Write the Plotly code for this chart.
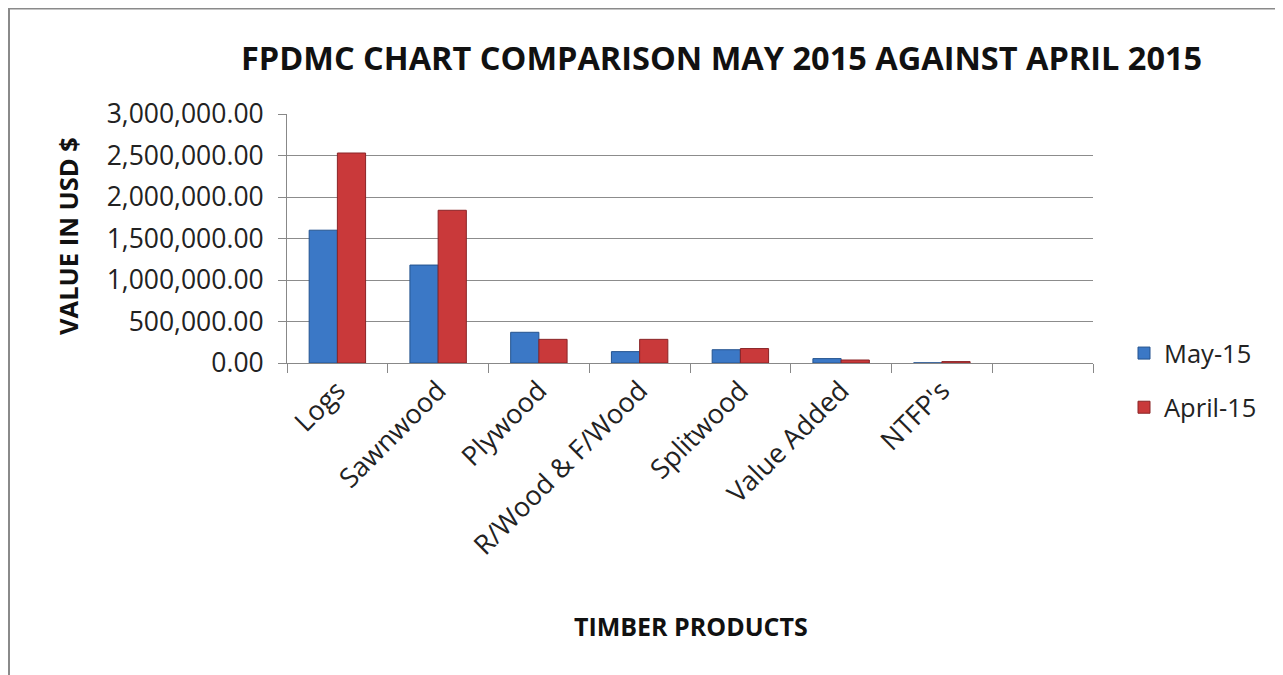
import plotly.graph_objects as go

categories = ["Logs", "Sawnwood", "Plywood", "R/Wood & F/Wood", "Splitwood", "Value Added", "NTFP's", " "]
may_15 = [1600000, 1180000, 370000, 137000, 160000, 53000, 2000, None]
april_15 = [2530000, 1840000, 285000, 285000, 174000, 36000, 17000, None]
y_ticks = [0, 500000, 1000000, 1500000, 2000000, 2500000, 3000000]

OFF = 8  # browser body margin
W, H = 1283 - OFF, 675 - OFF
L, R, T, B = 287 - OFF, 1093 - OFF, 114 - OFF, 363 - OFF
pw, ph = R - L, B - T

def px(x):
    return (x - OFF - L) / pw

def py(y):
    return (B - (y - OFF)) / ph

FONT = "Open Sans"

fig = go.Figure()
fig.add_trace(go.Bar(
    x=categories, y=may_15, name="May-15", legendgroup="a",
    marker=dict(color="#3B78C6", line=dict(color="#24538F", width=1)),
))
fig.add_trace(go.Bar(
    x=categories, y=april_15, name="April-15", legendgroup="b",
    marker=dict(color="#C9393A", line=dict(color="#8A2426", width=1)),
))

fig.update_layout(
    width=W, height=H,
    margin=dict(l=L, r=W - R, t=T, b=H - B, autoexpand=False),
    paper_bgcolor="white", plot_bgcolor="white",
    barmode="group", bargap=0.44, bargroupgap=0,
    font=dict(family=FONT, color="#222222", size=22),
    showlegend=True,
    legend=dict(x=px(1124), y=py(330), xanchor="left", yanchor="top",
                font=dict(size=25.5, family=FONT, color="#222222"),
                tracegroupgap=18, bgcolor="rgba(0,0,0,0)"),
    xaxis=dict(
        type="category", tickson="boundaries", ticks="outside", ticklen=9,
        tickcolor="#888888", showline=True, linecolor="#888888", linewidth=1,
        showgrid=False, tickangle=-45, range=[-0.5, 7.5],
        tickfont=dict(size=27, family=FONT, color="#222222"),
    ),
    yaxis=dict(
        range=[0, 3000000], tickvals=y_ticks, tickformat=",.2f",
        showgrid=True, gridcolor="#8C8C8C", gridwidth=1,
        showline=True, linecolor="#888888", ticks="outside", ticklen=8,
        tickcolor="#888888", zeroline=False, ticklabelstandoff=9,
        tickfont=dict(size=26.5, family=FONT, color="#222222"),
    ),
    annotations=[
        dict(text="<b>FPDMC CHART COMPARISON MAY 2015 AGAINST APRIL 2015</b>",
             x=px(721), y=py(57), xref="paper", yref="paper", showarrow=False,
             xanchor="center", yanchor="middle",
             font=dict(size=32.5, family=FONT, color="#111111")),
        dict(text="<b>VALUE IN USD $</b>", textangle=-90,
             x=px(68), y=py(236), xref="paper", yref="paper", showarrow=False,
             xanchor="center", yanchor="middle",
             font=dict(size=25.5, family=FONT, color="#111111")),
        dict(text="<b>TIMBER PRODUCTS</b>",
             x=px(691), y=py(626), xref="paper", yref="paper", showarrow=False,
             xanchor="center", yanchor="middle",
             font=dict(size=25, family=FONT, color="#111111")),
    ],
    shapes=[
        dict(type="rect", xref="paper", yref="paper",
             x0=px(9), x1=px(1300), y0=py(8.5), y1=py(700),
             line=dict(color="#8A8A8A", width=2), fillcolor="rgba(0,0,0,0)"),
    ],
)

fig.write_html("out.html")
